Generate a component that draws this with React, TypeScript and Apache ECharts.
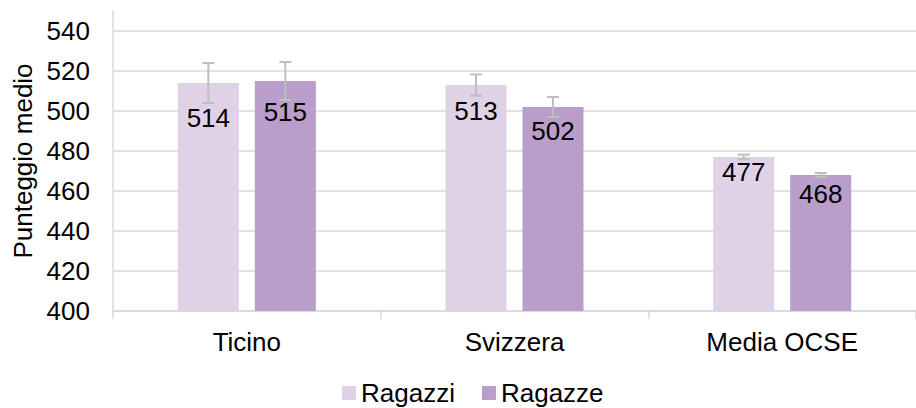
import React, { useEffect, useRef } from "react";
import * as echarts from "echarts";

const categories = ["Ticino", "Svizzera", "Media OCSE"];
const seriesNames = ["Ragazzi", "Ragazze"];
const ragazzi = [514, 513, 477];
const ragazze = [515, 502, 468];
const errRagazzi = [10, 5.3, 1.2];
const errRagazze = [9.5, 5, 1];
const yTicksMin = 400;
const yTicksMax = 550;
const yTickStep = 20;
const yAxisTitle = "Punteggio medio";

// styling (not data)
const colors = ["#E0D2E6", "#B99DCA"];
const labelDistRagazzi = [22, 13, 2];
const labelDistRagazze = [18, 11, 6];
const BAR_W = 61;
const BAR_GAP_PX = 16;
const FONT = "'Liberation Sans', Arial, sans-serif";
const FS = 26;

export default function App() {
  const ref = useRef<HTMLDivElement>(null);
  useEffect(() => {
    if (!ref.current) return;
    const chart = echarts.init(ref.current, null, { renderer: "svg" });
    const offset = (BAR_W + BAR_GAP_PX) / 2;
    const errSeries = (vals: number[], errs: number[], sign: number) => ({
      type: "custom",
      z: 10,
      silent: true,
      encode: { x: 0, y: [1, 2] },
      data: vals.map((v, i) => [i, v - errs[i], v + errs[i]]),
      renderItem: (params: any, api: any) => {
        const i = api.value(0);
        const lo = api.coord([i, api.value(1)]);
        const hi = api.coord([i, api.value(2)]);
        const x = lo[0] + sign * offset;
        const style = { stroke: "#BFBFBF", lineWidth: 2 };
        return {
          type: "group",
          children: [
            { type: "line", shape: { x1: x, y1: hi[1], x2: x, y2: lo[1] }, style },
            { type: "line", shape: { x1: x - 6, y1: hi[1], x2: x + 6, y2: hi[1] }, style },
            { type: "line", shape: { x1: x - 6, y1: lo[1], x2: x + 6, y2: lo[1] }, style },
          ],
        };
      },
    });
    const barSeries = (name: string, vals: number[], dists: number[], color: string) => ({
      name,
      type: "bar",
      barWidth: BAR_W,
      barGap: (BAR_GAP_PX / BAR_W) * 100 + "%",
      itemStyle: { color },
      data: vals.map((v, i) => ({
        value: v,
        label: { distance: dists[i] },
      })),
      label: {
        show: true,
        position: "insideTop",
        color: "#000",
        fontSize: FS,
        fontFamily: FONT,
      },
    });
    chart.setOption({
      animation: false,
      textStyle: { fontFamily: FONT },
      grid: { left: 113, top: 11, width: 816, height: 300, containLabel: false },
      legend: {
        data: seriesNames,
        left: 337,
        top: 375,
        itemWidth: 14,
        itemHeight: 14,
        itemGap: 27,
        icon: "rect",
        textStyle: { fontSize: FS, color: "#000", fontFamily: FONT },
      },
      xAxis: {
        type: "category",
        data: categories,
        axisLine: { show: true, lineStyle: { color: "#D9D9D9", width: 1.5 } },
        axisTick: { show: true, length: 8, lineStyle: { color: "#D9D9D9", width: 1.5 } },
        axisLabel: { fontSize: FS, color: "#000", margin: 18, fontFamily: FONT },
        splitLine: { show: false },
      },
      yAxis: {
        type: "value",
        min: yTicksMin,
        max: yTicksMax,
        interval: yTickStep,
        name: yAxisTitle,
        nameLocation: "middle",
        nameGap: 77,
        nameTextStyle: { fontSize: FS, color: "#000", fontFamily: FONT },
        axisLine: { show: true, lineStyle: { color: "#D9D9D9", width: 1.5 } },
        axisTick: { show: false },
        axisLabel: { fontSize: FS, color: "#000", margin: 23, showMaxLabel: false, fontFamily: FONT },
        splitLine: { show: true, showMaxLine: false, lineStyle: { color: "#D9D9D9", width: 1.5 } },
      },
      series: [
        barSeries(seriesNames[0], ragazzi, labelDistRagazzi, colors[0]),
        barSeries(seriesNames[1], ragazze, labelDistRagazze, colors[1]),
        errSeries(ragazzi, errRagazzi, -1),
        errSeries(ragazze, errRagazze, 1),
      ],
    });
    return () => chart.dispose();
  }, []);
  return (
    <div
      ref={ref}
      style={{ position: "fixed", left: 0, top: 0, width: 916, height: 408, background: "#fff" }}
    />
  );
}
